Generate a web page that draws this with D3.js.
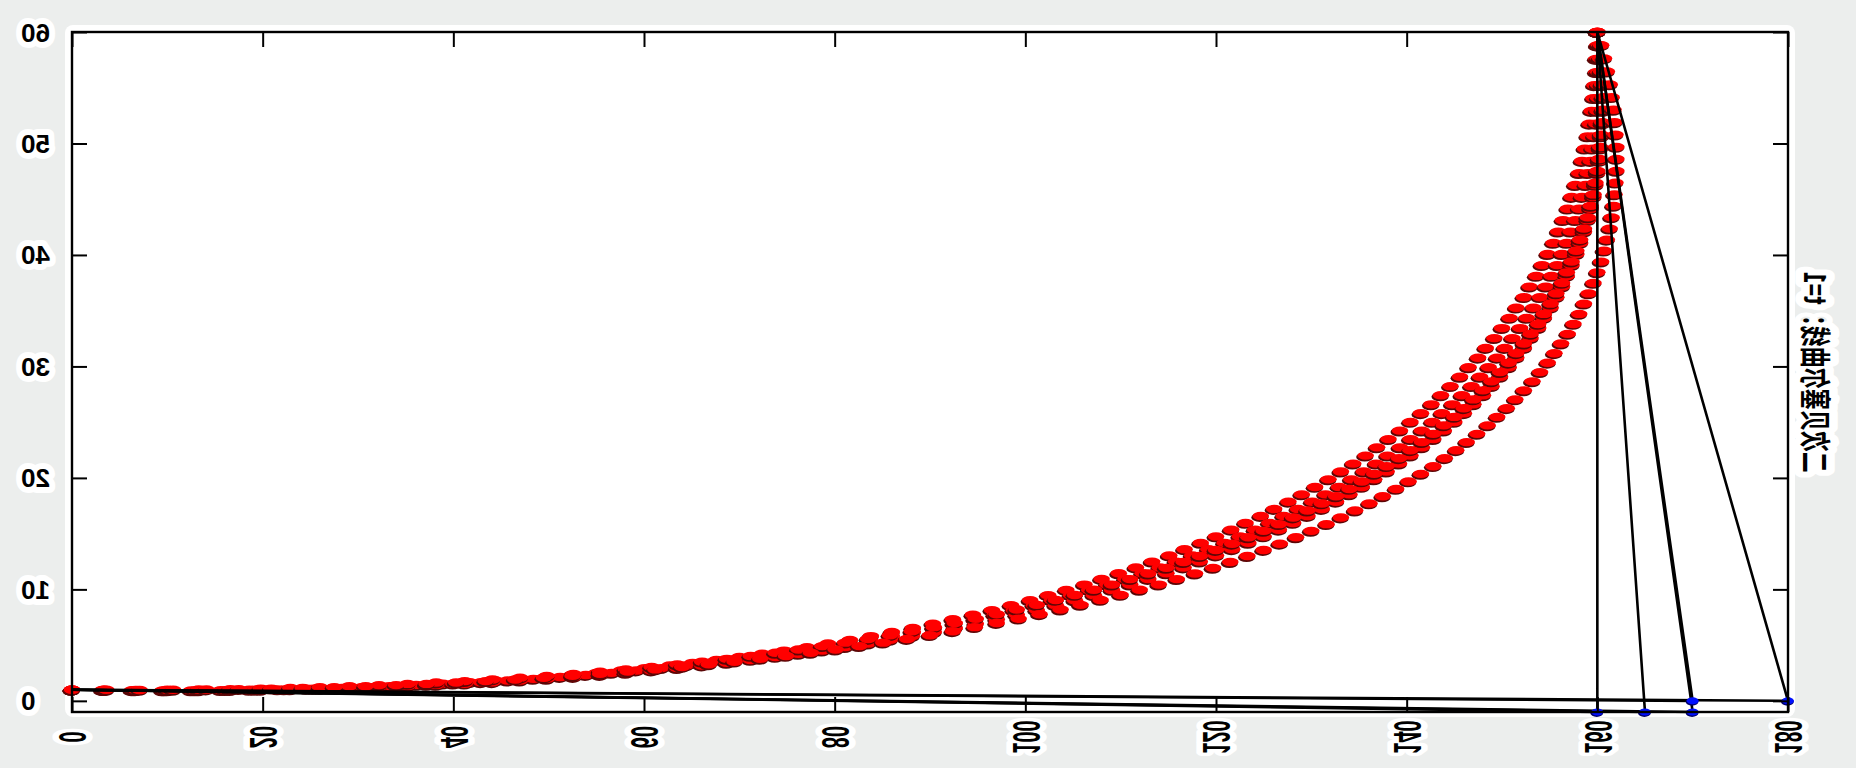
<!DOCTYPE html>
<html>
<head>
<meta charset="utf-8">
<script src="https://cdn.jsdelivr.net/npm/d3@7"></script>
<style>
  html, body { margin: 0; padding: 0; background: #eceeed; }
  svg { display: block; }
  text { font-family: "Liberation Sans", Arial, sans-serif; fill: #000; }
</style>
</head>
<body>
<svg id="chart" width="1856" height="768"></svg>
<script>
// ---- data ----
const xTicks = [0, 20, 40, 60, 80, 100, 120, 140, 160, 180];
const yTicks = [0, 10, 20, 30, 40, 50, 60];
const titleText = '二次贝塞尔曲线：t=1';

const startPoint = [0, 1];
const endPoint = [160, 60];
// blue control points along the bottom
const controlPoints = [[160, -1], [165, -1], [170, -1], [170, 0], [180, 0]];

// red dot positions, one column per curve (101 dots each)
const x160 = [0,3.2,6.3,9.5,12.5,15.6,18.6,21.6,24.6,27.5,
  30.4,33.3,36.1,38.9,41.7,44.4,47.1,49.8,52.4,55.0,
  57.6,60.1,62.7,65.1,67.6,70,72.4,74.7,77.1,79.3,
  81.6,83.8,86.0,88.2,90.3,92.4,94.5,96.5,98.5,100.5,
  102.4,104.3,106.2,108.0,109.8,111.6,113.3,115.1,116.7,118.4,
  120,121.6,123.1,124.7,126.1,127.6,129.0,130.4,131.8,133.1,
  134.4,135.7,136.9,138.1,139.3,140.4,141.5,142.6,143.6,144.6,
  145.6,146.5,147.5,148.3,149.2,150,150.8,151.5,152.3,152.9,
  153.6,154.2,154.8,155.4,155.9,156.4,156.9,157.3,157.7,158.1,
  158.4,158.7,159.0,159.2,159.4,159.6,159.7,159.9,159.9,160.0,
  160];
const x165 = [0,3.3,6.5,9.7,12.9,16.1,19.2,22.3,25.3,28.3,
  31.3,34.2,37.2,40.0,42.9,45.7,48.4,51.2,53.9,56.6,
  59.2,61.8,64.4,66.9,69.4,71.9,74.3,76.7,79.1,81.4,
  83.7,86.0,88.2,90.4,92.5,94.7,96.8,98.8,100.9,102.8,
  104.8,106.7,108.6,110.5,112.3,114.1,115.8,117.5,119.2,120.9,
  122.5,124.1,125.6,127.1,128.6,130.1,131.5,132.9,134.2,135.5,
  136.8,138.0,139.3,140.4,141.6,142.7,143.7,144.8,145.8,146.8,
  147.7,148.6,149.5,150.3,151.1,151.9,152.6,153.3,154.0,154.6,
  155.2,155.8,156.3,156.8,157.2,157.7,158.1,158.4,158.8,159.0,
  159.3,159.5,159.7,159.9,160.0,160.1,160.1,160.1,160.1,160.1,
  160];
const x170 = [0,3.4,6.7,10.0,13.3,16.6,19.8,22.9,26.0,29.1,
  32.2,35.2,38.2,41.2,44.1,47.0,49.8,52.6,55.4,58.1,
  60.8,63.5,66.1,68.7,71.2,73.8,76.2,78.7,81.1,83.5,
  85.8,88.1,90.4,92.6,94.8,97.0,99.1,101.2,103.2,105.2,
  107.2,109.1,111.0,112.9,114.8,116.6,118.3,120.0,121.7,123.4,
  125,126.6,128.1,129.6,131.1,132.6,134.0,135.3,136.6,137.9,
  139.2,140.4,141.6,142.8,143.9,145.0,146.0,147.0,148.0,148.9,
  149.8,150.7,151.5,152.3,153.0,153.8,154.4,155.1,155.7,156.3,
  156.8,157.3,157.8,158.2,158.6,159.0,159.3,159.6,159.8,160.0,
  160.2,160.3,160.4,160.5,160.6,160.6,160.5,160.4,160.3,160.2,
  160];
const x180 = [0,3.6,7.1,10.6,14.1,17.5,20.9,24.2,27.5,30.8,
  34,37.2,40.3,43.4,46.5,49.5,52.5,55.4,58.3,61.2,
  64,66.8,69.5,72.2,74.9,77.5,80.1,82.6,85.1,87.6,
  90,92.4,94.7,97.0,99.3,101.5,103.7,105.8,107.9,110.0,
  112,114.0,115.9,117.8,119.7,121.5,123.3,125.0,126.7,128.4,
  130,131.6,133.1,134.6,136.1,137.5,138.9,140.2,141.5,142.8,
  144,145.2,146.3,147.4,148.5,149.5,150.5,151.4,152.3,153.2,
  154,154.8,155.5,156.2,156.9,157.5,158.1,158.6,159.1,159.6,
  160,160.4,160.7,161.0,161.3,161.5,161.7,161.8,161.9,162.0,
  162,162.0,161.9,161.8,161.7,161.5,161.3,161.0,160.7,160.4,
  160];
// heights for curves whose control point sits at -1 and at 0
const yLow = [1,0.97,0.95,0.94,0.94,0.96,0.99,1.03,1.08,1.15,
  1.23,1.32,1.43,1.54,1.67,1.82,1.97,2.14,2.32,2.51,
  2.72,2.94,3.17,3.41,3.67,3.94,4.22,4.51,4.82,5.14,
  5.47,5.81,6.17,6.54,6.92,7.32,7.72,8.14,8.58,9.02,
  9.48,9.95,10.43,10.93,11.44,11.96,12.49,13.04,13.60,14.17,
  14.75,15.35,15.96,16.58,17.21,17.86,18.52,19.19,19.87,20.57,
  21.28,22.00,22.74,23.48,24.24,25.02,25.80,26.60,27.41,28.23,
  29.07,29.92,30.78,31.65,32.54,33.44,34.35,35.27,36.21,37.16,
  38.12,39.09,40.08,41.08,42.09,43.12,44.15,45.20,46.27,47.34,
  48.43,49.53,50.64,51.77,52.91,54.06,55.22,56.40,57.59,58.79,
  60];
const yHigh = [1,0.99,0.98,0.99,1.02,1.05,1.10,1.16,1.23,1.31,
  1.41,1.52,1.64,1.77,1.92,2.07,2.24,2.42,2.62,2.82,
  3.04,3.27,3.51,3.77,4.03,4.31,4.60,4.91,5.22,5.55,
  5.89,6.24,6.61,6.98,7.37,7.77,8.19,8.61,9.05,9.50,
  9.96,10.43,10.92,11.42,11.93,12.45,12.99,13.53,14.09,14.67,
  15.25,15.85,16.45,17.07,17.71,18.35,19.01,19.68,20.36,21.05,
  21.76,22.48,23.21,23.95,24.71,25.47,26.25,27.04,27.85,28.66,
  29.49,30.33,31.18,32.05,32.92,33.81,34.71,35.63,36.55,37.49,
  38.44,39.40,40.38,41.36,42.36,43.37,44.40,45.43,46.48,47.54,
  48.61,49.69,50.79,51.90,53.02,54.15,55.30,56.45,57.62,58.81,
  60];

const curves = [
  { xs: x160, ys: yLow },
  { xs: x165, ys: yLow },
  { xs: x170, ys: yLow },
  { xs: x170, ys: yHigh },
  { xs: x180, ys: yHigh }
];

// ---- layout ----
const svg = d3.select('#chart');
const plot = { left: 72, top: 32, right: 1788, bottom: 712 };

const x = d3.scaleLinear().domain([0, 180]).range([plot.left, plot.right]);
const y = d3.scaleLinear().domain([-1, 60]).range([plot.bottom, plot.top]);

// white panel behind the axes
svg.append('rect')
  .attr('x', plot.left - 7).attr('y', plot.top - 7)
  .attr('width', plot.right - plot.left + 14)
  .attr('height', plot.bottom - plot.top + 12)
  .attr('rx', 8)
  .attr('fill', '#fff');

// red dots
const dotsG = svg.append('g').attr('class', 'dots');
curves.forEach(c => {
  const pts = d3.zip(c.xs, c.ys);
  dotsG.append('g').selectAll('ellipse')
    .data(pts).enter().append('ellipse')
    .attr('cx', d => x(d[0]) - 0.9).attr('cy', d => y(d[1]) + 1.4)
    .attr('rx', 8.6).attr('ry', 4.5)
    .attr('fill', '#5a0606');
  dotsG.append('g').selectAll('ellipse')
    .data(pts).enter().append('ellipse')
    .attr('cx', d => x(d[0])).attr('cy', d => y(d[1]))
    .attr('rx', 8.3).attr('ry', 4.2)
    .attr('fill', '#ff0000');
});

// control polygons
const line = d3.line().x(d => x(d[0])).y(d => y(d[1]));
svg.append('g').selectAll('path')
  .data(controlPoints).enter().append('path')
  .attr('d', p => line([startPoint, p, endPoint]))
  .attr('fill', 'none')
  .attr('stroke', '#000')
  .attr('stroke-width', 2.6)
  .attr('stroke-linejoin', 'round');

// blue control points
const blueG = svg.append('g');
blueG.selectAll('.sh').data(controlPoints).enter().append('ellipse')
  .attr('cx', d => x(d[0]) - 0.6).attr('cy', d => y(d[1]) + 1)
  .attr('rx', 6.4).attr('ry', 3.9).attr('fill', '#00006a');
blueG.selectAll('.bl').data(controlPoints).enter().append('ellipse')
  .attr('cx', d => x(d[0])).attr('cy', d => y(d[1]))
  .attr('rx', 6).attr('ry', 3.5).attr('fill', '#0010ff');

// ---- axes ----
function styleTicks(g) {
  g.select('.domain').remove();
  g.selectAll('.tick line').attr('stroke', '#000').attr('stroke-width', 2);
}
function halo(sel, w) {
  sel.attr('stroke', '#fff').attr('stroke-width', w)
    .attr('stroke-linejoin', 'round').attr('paint-order', 'stroke');
}

const gx = svg.append('g')
  .attr('transform', `translate(0,${plot.bottom})`)
  .call(d3.axisBottom(x).tickValues(xTicks).tickSize(-15).tickSizeOuter(0));
styleTicks(gx);
gx.selectAll('.tick text')
  .attr('y', null).attr('dy', null)
  .attr('text-anchor', 'middle')
  .attr('dominant-baseline', 'central')
  .attr('transform', 'translate(0,25) scale(-1.9,1) rotate(-90)')
  .style('font-size', '20px')
  .style('font-weight', 'bold')
  .call(halo, 7);

const gxTop = svg.append('g')
  .attr('transform', `translate(0,${plot.top})`)
  .call(d3.axisTop(x).tickValues(xTicks).tickSize(-15).tickSizeOuter(0).tickFormat(''));
styleTicks(gxTop);

const gy = svg.append('g')
  .attr('transform', `translate(${plot.left},0)`)
  .call(d3.axisLeft(y).tickValues(yTicks).tickSize(-15).tickSizeOuter(0));
styleTicks(gy);
gy.selectAll('.tick text')
  .attr('x', null).attr('dy', null)
  .attr('text-anchor', 'end')
  .attr('dominant-baseline', 'central')
  .attr('transform', 'translate(-51,0) scale(-1,1)')
  .style('font-size', '26px')
  .style('font-weight', 'bold')
  .call(halo, 12);

const gyRight = svg.append('g')
  .attr('transform', `translate(${plot.right},0)`)
  .call(d3.axisRight(y).tickValues(yTicks).tickSize(-15).tickSizeOuter(0).tickFormat(''));
styleTicks(gyRight);

// frame
svg.append('rect')
  .attr('x', plot.left).attr('y', plot.top)
  .attr('width', plot.right - plot.left)
  .attr('height', plot.bottom - plot.top)
  .attr('fill', 'none')
  .attr('stroke', '#000')
  .attr('stroke-width', 2.4);

// title, written up the right side
svg.append('text')
  .attr('transform', `translate(1817,372) scale(-1.45,1) rotate(-90)`)
  .attr('text-anchor', 'middle')
  .attr('dominant-baseline', 'central')
  .style('font-family', '"Noto Sans CJK SC", "Noto Sans", sans-serif')
  .style('font-size', '21px')
  .style('font-weight', 'bold')
  .text(titleText)
  .call(halo, 12);
</script>
</body>
</html>
